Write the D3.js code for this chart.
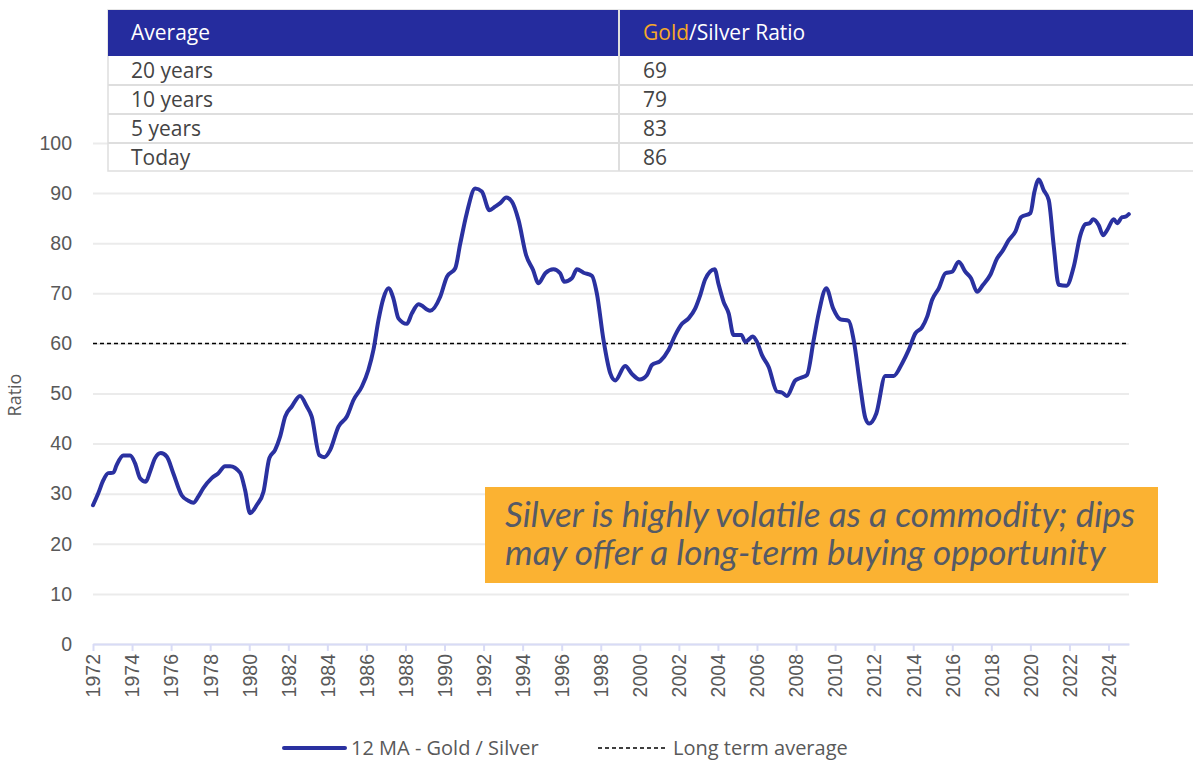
<!DOCTYPE html>
<html>
<head>
<meta charset="utf-8">
<script src="https://cdn.jsdelivr.net/npm/d3@7"></script>
<style>
    body { margin: 0; background: #fff; }
    svg { display: block; font-family: "Open Sans", Lato, sans-serif; }
</style>
</head>
<body>
<div id="chart"></div>
<script>

var years = [
    1972.0, 1972.27, 1972.53, 1972.78, 1973.04, 1973.21, 1973.55, 1973.9, 1974.15, 1974.41,
    1974.7, 1974.92, 1975.18, 1975.47, 1975.78, 1976.11, 1976.54, 1976.88, 1977.14, 1977.39,
    1977.65, 1978.08, 1978.42, 1978.76, 1979.02, 1979.53, 1979.79, 1980.04, 1980.38, 1980.73,
    1981.03, 1981.32, 1981.58, 1981.84, 1982.18, 1982.6, 1982.95, 1983.2, 1983.59, 1983.85,
    1984.14, 1984.57, 1985.0, 1985.34, 1985.77, 1986.1, 1986.36, 1986.62, 1986.87, 1987.13,
    1987.38, 1987.64, 1988.07, 1988.33, 1988.67, 1989.26, 1989.78, 1990.12, 1990.55, 1990.8,
    1991.14, 1991.57, 1991.91, 1992.3, 1992.59, 1992.85, 1993.16, 1993.45, 1993.79, 1994.18,
    1994.53, 1994.81, 1995.16, 1995.58, 1995.92, 1996.13, 1996.52, 1996.78, 1997.12, 1997.55,
    1997.8, 1998.14, 1998.49, 1998.74, 1999.25, 1999.6, 1999.99, 2000.37, 2000.62, 2001.05,
    2001.47, 2001.82, 2002.16, 2002.5, 2002.84, 2003.1, 2003.35, 2003.83, 2004.04, 2004.29,
    2004.55, 2004.8, 2005.2, 2005.4, 2005.79, 2006.0, 2006.25, 2006.6, 2007.02, 2007.28,
    2007.53, 2007.96, 2008.22, 2008.56, 2008.9, 2009.16, 2009.55, 2009.9, 2010.27, 2010.7,
    2010.95, 2011.29, 2011.55, 2011.75, 2012.11, 2012.57, 2013.0, 2013.43, 2013.77, 2014.11,
    2014.45, 2014.71, 2014.97, 2015.31, 2015.65, 2015.99, 2016.33, 2016.67, 2016.96, 2017.27,
    2017.58, 2017.95, 2018.3, 2018.55, 2018.89, 2019.23, 2019.52, 2020.0, 2020.21, 2020.43,
    2020.68, 2020.94, 2021.2, 2021.45, 2021.85, 2022.22, 2022.56, 2022.82, 2023.04, 2023.21,
    2023.5, 2023.72, 2023.93, 2024.27, 2024.44, 2024.7, 2024.87, 2025.04
];

var ratio = [
    27.7, 30.1, 32.7, 34.1, 34.2, 35.7, 37.6, 37.6, 36.1, 33.1,
    32.4, 34.4, 37.1, 38.1, 37.4, 34.1, 29.7, 28.6, 28.2, 29.4,
    31.1, 33.1, 34.1, 35.5, 35.5, 34.2, 30.7, 26.1, 27.7, 30.4,
    37.1, 38.7, 41.4, 45.4, 47.4, 49.5, 47.4, 45.4, 37.7, 37.3,
    38.7, 43.4, 45.4, 48.7, 51.4, 54.7, 58.7, 64.7, 69.0, 71.0,
    69.0, 65.0, 63.9, 66.0, 67.8, 66.5, 69.3, 73.3, 75.0, 79.8,
    86.0, 90.9, 90.3, 86.6, 87.3, 88.0, 89.1, 88.3, 84.6, 77.6,
    74.7, 72.0, 74.0, 74.8, 74.0, 72.3, 73.0, 74.8, 74.1, 73.5,
    70.0, 60.7, 54.0, 52.6, 55.5, 53.9, 52.8, 53.7, 55.7, 56.5,
    58.7, 61.7, 63.9, 65.0, 67.0, 69.7, 72.8, 74.8, 71.7, 68.3,
    66.0, 61.7, 61.7, 60.3, 61.4, 60.3, 57.7, 55.3, 50.4, 50.2,
    49.5, 52.6, 53.1, 53.7, 60.6, 66.0, 71.0, 67.0, 64.8, 64.5,
    60.7, 51.4, 45.1, 44.0, 46.0, 53.5, 53.5, 56.0, 58.7, 62.0,
    63.2, 65.3, 68.7, 71.0, 74.0, 74.3, 76.3, 74.3, 73.0, 70.3,
    71.7, 73.7, 77.0, 78.3, 80.6, 82.3, 85.2, 86.0, 90.3, 92.7,
    90.6, 88.6, 79.3, 71.7, 71.5, 75.3, 81.6, 83.8, 84.0, 84.8,
    83.6, 81.6, 82.6, 84.8, 84.0, 85.2, 85.3, 85.8
];

var longTermAverage = 60;

var yearTicks = [1972, 1974, 1976, 1978, 1980, 1982, 1984, 1986, 1988, 1990, 1992, 1994, 1996, 1998,
                 2000, 2002, 2004, 2006, 2008, 2010, 2012, 2014, 2016, 2018, 2020, 2022, 2024];
var ratioTicks = [0, 10, 20, 30, 40, 50, 60, 70, 80, 90, 100];

var periods = ["20 years", "10 years", "5 years", "Today"];
var periodAverages = [69, 79, 83, 86];

var seriesLabels = ["12 MA - Gold / Silver", "Long term average"];
var note = ["Silver is highly volatile as a commodity; dips", "may offer a long-term buying opportunity"];

var W = 1193, H = 761;
var plot = { left: 93, right: 1129, top: 143, bottom: 644 };
var blue = "#2a31a0", grey = "#595959";

var svg = d3.select("#chart").append("svg")
    .attr("width", W)
    .attr("height", H);

var x = d3.scaleLinear().domain([1972, 2025.05]).range([plot.left, plot.right]);
var y = d3.scaleLinear().domain([0, 100]).range([plot.bottom, plot.top]);

// gridlines + y labels
var yAxis = svg.append("g")
    .attr("transform", "translate(" + plot.left + ",0)")
    .call(d3.axisLeft(y).tickValues(ratioTicks).tickSize(-(plot.right - plot.left)).tickPadding(21));
yAxis.select(".domain").remove();
yAxis.selectAll(".tick line").attr("stroke", "#ebebeb").attr("stroke-width", 2);
yAxis.selectAll(".tick text")
    .attr("fill", grey)
    .style("font-size", "19.5px");

// x axis
var xAxis = svg.append("g")
    .attr("transform", "translate(0," + plot.bottom + ")")
    .call(d3.axisBottom(x).tickValues(yearTicks).tickFormat(d3.format("d")).tickSize(7).tickSizeOuter(0));
xAxis.select(".domain").attr("stroke", "#d8dbf6").attr("stroke-width", 2);
xAxis.selectAll(".tick line").attr("stroke", "#d8dbf6").attr("stroke-width", 2);
xAxis.selectAll(".tick text")
    .attr("fill", grey)
    .style("font-size", "19.5px")
    .attr("text-anchor", "end")
    .attr("transform", "rotate(-90)")
    .attr("x", -10)
    .attr("y", 0)
    .attr("dy", "0.35em");

svg.append("text")
    .attr("text-anchor", "middle")
    .attr("transform", "translate(21,395) rotate(-90)")
    .attr("fill", grey)
    .style("font-size", "18px")
    .text("Ratio");

// long term average
svg.append("line")
    .attr("x1", plot.left).attr("x2", plot.right)
    .attr("y1", y(longTermAverage)).attr("y2", y(longTermAverage))
    .attr("stroke", "#000")
    .attr("stroke-width", 1.5)
    .attr("stroke-dasharray", "4,3");

var line = d3.line()
    .x(function(d, i) { return x(years[i]); })
    .y(function(d) { return y(d); })
    .curve(d3.curveMonotoneX);

svg.append("path")
    .datum(ratio)
    .attr("fill", "none")
    .attr("stroke", blue)
    .attr("stroke-width", 4)
    .attr("stroke-linejoin", "round")
    .attr("stroke-linecap", "round")
    .attr("d", line);

// table of averages
var table = svg.append("g");
var tLeft = 108, tMid = 619, tRight = W + 2;
var rowY = [10, 56, 85, 114, 143, 171];

table.append("rect")
    .attr("x", tLeft).attr("y", rowY[0])
    .attr("width", tRight - tLeft).attr("height", rowY[rowY.length - 1] - rowY[0])
    .attr("fill", "#fff")
    .attr("stroke", "#dedede")
    .attr("stroke-width", 1.5);
table.append("rect")
    .attr("x", tLeft).attr("y", rowY[0])
    .attr("width", tRight - tLeft).attr("height", rowY[1] - rowY[0])
    .attr("fill", "#252c9e");
table.append("line")
    .attr("x1", tMid).attr("x2", tMid)
    .attr("y1", rowY[0]).attr("y2", rowY[rowY.length - 1])
    .attr("stroke", "#dedede").attr("stroke-width", 2);

table.selectAll(".sep")
    .data(rowY.slice(2, 5))
    .enter().append("line")
    .attr("x1", tLeft).attr("x2", tRight)
    .attr("y1", function(d) { return d; }).attr("y2", function(d) { return d; })
    .attr("stroke", "#dedede").attr("stroke-width", 2);

table.append("text")
    .attr("x", 131).attr("y", 40)
    .attr("fill", "#fff")
    .style("font-size", "21px")
    .text("Average");
var head = table.append("text")
    .attr("x", 643).attr("y", 40)
    .attr("fill", "#fff")
    .style("font-size", "21px");
head.append("tspan").attr("fill", "#f7a928").text("Gold");
head.append("tspan").text("/Silver Ratio");

periods.forEach(function(p, i) {
    var base = rowY[i + 1] + 22;
    table.append("text").attr("x", 131).attr("y", base)
        .attr("fill", "#444").style("font-size", "21px").text(p);
    table.append("text").attr("x", 643).attr("y", base)
        .attr("fill", "#444").style("font-size", "21px").text(periodAverages[i]);
});

// note box
svg.append("rect")
    .attr("x", 485).attr("y", 487)
    .attr("width", 673).attr("height", 96)
    .attr("fill", "#fbb232");
var noteText = svg.append("text")
    .attr("fill", "#555a66")
    .style("font-family", "Lato, sans-serif")
    .style("font-style", "italic")
    .style("font-size", "29px");
note.forEach(function(t, i) {
    noteText.append("tspan").attr("x", 505).attr("y", 527 + i * 38).text(t);
});
// scale the note so the first line spans the box like the original
var w0 = noteText.select("tspan").node().getComputedTextLength();
noteText.style("font-size", (29 * 630 / w0).toFixed(2) + "px");

// legend
var legend = svg.append("g").attr("transform", "translate(0,748)");
legend.append("line")
    .attr("x1", 284).attr("x2", 345)
    .attr("stroke", blue).attr("stroke-width", 4).attr("stroke-linecap", "round");
legend.append("text")
    .attr("x", 351).attr("dy", "0.35em")
    .attr("fill", grey).style("font-size", "20px")
    .text(seriesLabels[0]);
legend.append("line")
    .attr("x1", 598).attr("x2", 667)
    .attr("stroke", "#000").attr("stroke-width", 1.5).attr("stroke-dasharray", "4,3");
legend.append("text")
    .attr("x", 673).attr("dy", "0.35em")
    .attr("fill", grey).style("font-size", "20px")
    .text(seriesLabels[1]);

</script>
</body>
</html>
